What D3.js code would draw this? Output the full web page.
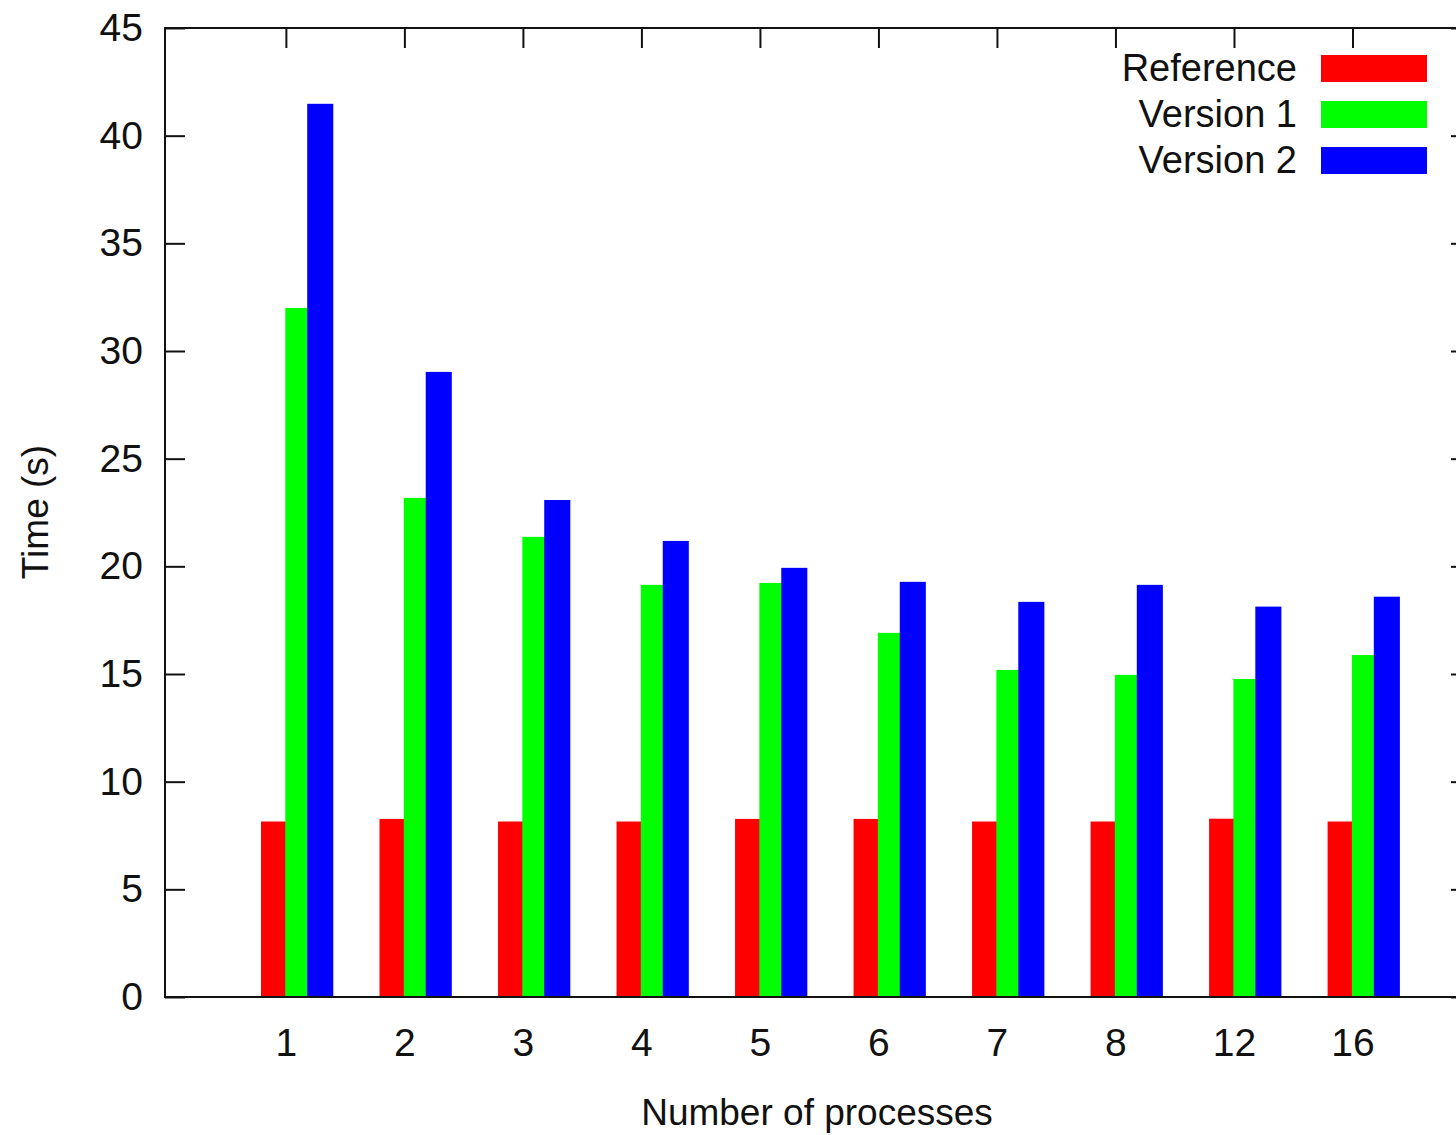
<!DOCTYPE html>
<html>
<head>
<meta charset="utf-8">
<script src="https://cdn.jsdelivr.net/npm/d3@7"></script>
<style>
  body { margin: 0; background: #fff; }
  svg { display: block; font-family: "Liberation Sans", Arial, sans-serif; }
  .axis text { font-size: 39px; fill: #111; }
  .axis path { display: none; }
  .axis line { stroke: #111; stroke-width: 2; }
</style>
</head>
<body>
<div id="chart"></div>
<script>
// data
var categories = ['1', '2', '3', '4', '5', '6', '7', '8', '12', '16'];
var seriesNames = ['Reference', 'Version 1', 'Version 2'];
var reference = [8.15, 8.27, 8.15, 8.15, 8.27, 8.27, 8.15, 8.15, 8.28, 8.15];
var version1 = [32.0, 23.18, 21.37, 19.14, 19.23, 16.91, 15.19, 14.96, 14.77, 15.88];
var version2 = [41.48, 29.03, 23.08, 21.18, 19.93, 19.28, 18.35, 19.14, 18.13, 18.59];
var yTicks = [0, 5, 10, 15, 20, 25, 30, 35, 40, 45];

var series = [reference, version1, version2];
var colors = ['#ff0000', '#00ff00', '#0000ff'];

// svg size
var width = 1456, height = 1135;
var plotLeft = 165, plotTop = 28, plotBottom = 997, plotRight = 1471;

var svg = d3.select('#chart')
    .append('svg')
        .attr('width', width)
        .attr('height', height)
;

var x = d3.scaleLinear()
    .domain([-1.02, 10])
    .range([plotLeft, plotRight])
;
var y = d3.scaleLinear()
    .domain([0, 45])
    .range([plotBottom, plotTop])
;

// axes, ticks pointing inwards and mirrored (drawn first so bars cover them)
var idx = d3.range(categories.length);

svg.append('g').attr('class', 'axis')
    .attr('transform', 'translate(' + plotLeft + ',0)')
    .call(d3.axisLeft(y).tickValues(yTicks).tickSize(-20).tickPadding(22));

svg.append('g').attr('class', 'axis')
    .attr('transform', 'translate(' + plotRight + ',0)')
    .call(d3.axisRight(y).tickValues(yTicks).tickSize(-20).tickFormat(''));

svg.append('g').attr('class', 'axis')
    .attr('transform', 'translate(0,' + plotBottom + ')')
    .call(d3.axisBottom(x).tickValues(idx).tickSize(-20).tickPadding(31)
        .tickFormat(function(i) { return categories[i]; }));

svg.append('g').attr('class', 'axis')
    .attr('transform', 'translate(0,' + plotTop + ')')
    .call(d3.axisTop(x).tickValues(idx).tickSize(-20).tickFormat(''));

// bars (gnuplot clustered histogram: each bar 0.22 wide, later ones overlap)
var barOffset = [-0.21, -0.005, 0.18];
var barWidth = 0.22;

series.forEach(function(values, s) {
    svg.append('g')
        .selectAll('rect')
        .data(values)
        .enter().append('rect')
            .attr('x', function(d, i) { return x(i + barOffset[s]); })
            .attr('width', function(d, i) { return x(i + barOffset[s] + barWidth) - x(i + barOffset[s]); })
            .attr('y', function(d) { return y(d); })
            .attr('height', function(d) { return y(0) - y(d); })
            .style('fill', colors[s])
    ;
});

// border
svg.append('rect')
    .attr('x', plotLeft)
    .attr('y', plotTop)
    .attr('width', plotRight - plotLeft)
    .attr('height', plotBottom - plotTop)
    .style('fill', 'none')
    .style('stroke', '#111')
    .style('stroke-width', 2)
;

// axis titles
svg.append('text')
    .attr('x', 817)
    .attr('y', 1112)
    .attr('dominant-baseline', 'central')
    .style('text-anchor', 'middle')
    .style('font-size', '37px')
    .style('fill', '#111')
    .text('Number of processes')
;
svg.append('text')
    .attr('transform', 'translate(35,512) rotate(-90)')
    .attr('dominant-baseline', 'central')
    .style('text-anchor', 'middle')
    .style('font-size', '37px')
    .style('fill', '#111')
    .text('Time (s)')
;

// legend
var legend = svg.append('g')
    .selectAll('g')
    .data(seriesNames)
    .enter().append('g')
        .attr('transform', function(d, i) { return 'translate(0,' + (68 + i * 46) + ')'; })
;
legend.append('text')
    .attr('x', 1297)
    .attr('dominant-baseline', 'central')
    .style('text-anchor', 'end')
    .style('font-size', '38px')
    .style('fill', '#111')
    .text(function(d) { return d; })
;
legend.append('rect')
    .attr('x', 1321)
    .attr('y', -13)
    .attr('width', 106)
    .attr('height', 27)
    .style('fill', function(d, i) { return colors[i]; })
;
</script>
</body>
</html>
